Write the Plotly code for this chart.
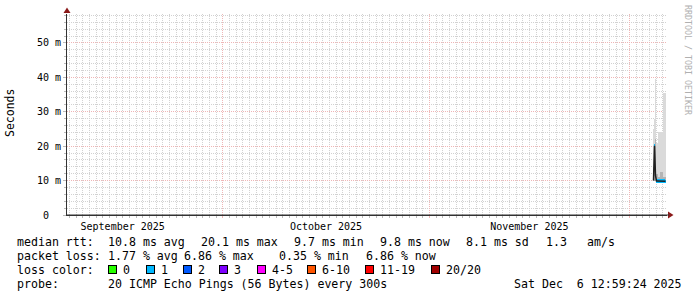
import pandas as pd
import plotly.graph_objects as go

# ---------------- data ----------------
col_times = ["2025-12-04 14:59", "2025-12-04 18:35", "2025-12-04 22:11", "2025-12-05 01:47",
             "2025-12-05 05:23", "2025-12-05 08:59", "2025-12-05 12:35", "2025-12-05 16:11",
             "2025-12-05 19:47", "2025-12-05 23:23", "2025-12-06 02:59", "2025-12-06 06:35",
             "2025-12-06 10:11"]
smoke_low = [9.8, 9.8, 9.8, 9.7, 9.7, 9.7, 9.7, 9.7, 9.7, 9.7, 9.7, 9.7, 9.7]
smoke_mid = [14.0, 18.0, 22.0, 12.0, 12.0, 11.0, 11.0, 12.5, 12.5, 12.5, 11.0, 11.0, 11.0]
smoke_high = [25.0, 28.0, 39.5, 21.0, 21.0, 24.0, 24.0, 24.0, 24.0, 24.0, 35.5, 35.5, 35.5]
median_ms = [10.0, 20.1, 11.5, 9.9, 9.9, 9.9, 9.9, 9.9, 9.9, 9.9, 9.9, 9.9, 9.8]
loss_pings = [None, 1, 1, 1, 1, 1, 1, 1, 1, 1, 1, 1, 1]

x_start = "2025-09-07 15:35:24"
x_end = "2025-12-06 15:35:24"
y_max = 58.4
y_tickvals = [0, 10, 20, 30, 40, 50]
y_ticktext = ["0\u00a0\u00a0", "10 m", "20 m", "30 m", "40 m", "50 m"]

loss_labels = ["0", "1", "2", "3", "4-5", "6-10", "11-19", "20/20"]
loss_colors = ["#26ff00", "#00b8ff", "#0059ff", "#7e00ff", "#ff00ff", "#ff5500", "#ff0000", "#a10000"]
loss_label_x = [108, 146, 183, 219, 257, 307, 365, 431]

legend_lines = [
    [("median rtt:", 16), ("10.8 ms avg", 107), ("20.1 ms max", 200), ("9.7 ms min", 293),
     ("9.8 ms now", 379), ("8.1 ms sd", 465), ("1.3", 545), ("am/s", 586)],
    [("packet loss:", 16), ("1.77 % avg", 107), ("6.86 % max", 183), ("0.35 % min", 278),
     ("6.86 % now", 365)],
    [("loss color:", 16)],
    [("probe:", 16), ("20 ICMP Echo Pings (56 Bytes) every 300s", 107),
     ("Sat Dec  6 12:59:24 2025", 513)],
]
legend_line_y = [241.5, 255.5, 269.5, 283.5]


def loss_color(n):
    if n is None:
        return None
    bounds = [0, 1, 2, 3, 5, 10, 19, 20]
    for b, c in zip(bounds, loss_colors):
        if n <= b:
            return c
    return loss_colors[-1]


# ---------------- axis grid positions ----------------
days = pd.date_range("2025-09-08", "2025-12-06", freq="D")
x_minor_vals = [d.strftime("%Y-%m-%d") for d in days if d.day != 1]
y_minor_vals = [v for v in range(2, 59, 2) if v % 10 != 0]

# ---------------- layout constants ----------------
W, H = 697, 297
L, R, T, B = 67, 30, 14, 82
PW, PH = W - L - R, H - T - B
FONT = "DejaVu Sans Mono"
col_w = 3.6 * 3600 * 1000
GRID_MAJOR = "#efb6b6"
GRID_MINOR = "#d2d2d2"


def px_x(p):
    return (p - L) / PW


def px_y(p):
    return (T + PH - p) / PH


fig = go.Figure()

fig.add_trace(go.Bar(x=col_times, base=smoke_low,
                     y=[h - l for h, l in zip(smoke_high, smoke_low)],
                     width=col_w, marker=dict(color="#dadada", line=dict(width=0)),
                     hoverinfo="skip"))
fig.add_trace(go.Bar(x=col_times, base=smoke_low,
                     y=[m - l for m, l in zip(smoke_mid, smoke_low)],
                     width=col_w, marker=dict(color="#b4b4b4", line=dict(width=0)),
                     hoverinfo="skip"))
fig.add_trace(go.Scatter(x=col_times, y=median_ms, mode="lines",
                         line=dict(color="#202020", width=1.5), hoverinfo="skip"))

mx, mb, mc = [], [], []
for t, m, n in zip(col_times, median_ms, loss_pings):
    c = loss_color(n)
    if c is not None:
        mx.append(t)
        mb.append(m - 0.5)
        mc.append(c)
fig.add_trace(go.Bar(x=mx, base=mb, y=[1.0] * len(mx), width=col_w,
                     marker=dict(color=mc, line=dict(width=0)), hoverinfo="skip"))

annotations = []
for line, yy in zip(legend_lines, legend_line_y):
    for text, xx in line:
        annotations.append(dict(text=text.replace(" ", "\u00a0"), x=px_x(xx), y=px_y(yy),
                                xref="paper", yref="paper", xanchor="left", yanchor="middle",
                                showarrow=False, borderpad=0,
                                font=dict(family=FONT, size=11.6, color="#000000")))
for lab, col, xx in zip(loss_labels, loss_colors, loss_label_x):
    annotations.append(dict(text="\u00a0", x=px_x(xx), y=px_y(269.5), xref="paper", yref="paper",
                            xanchor="left", yanchor="middle", showarrow=False,
                            width=7, height=7, bgcolor=col, bordercolor="#000000",
                            borderwidth=1, borderpad=0, font=dict(size=6)))
    annotations.append(dict(text=lab, x=px_x(xx + 14), y=px_y(269.5), xref="paper", yref="paper",
                            xanchor="left", yanchor="middle", showarrow=False, borderpad=0,
                            font=dict(family=FONT, size=11.6, color="#000000")))

annotations.append(dict(text="Seconds", x=px_x(10), y=px_y(113), xref="paper", yref="paper",
                        xanchor="center", yanchor="middle", textangle=-90, showarrow=False,
                        font=dict(family=FONT, size=11.5, color="#000000")))
annotations.append(dict(text="RRDTOOL / TOBI OETIKER", x=px_x(688), y=px_y(60), xref="paper",
                        yref="paper", xanchor="center", yanchor="middle", textangle=90,
                        showarrow=False, font=dict(family=FONT, size=8.3, color="#b0b0b0")))

shapes = [
    dict(type="path", xref="paper", yref="paper", xsizemode="pixel", ysizemode="pixel",
         xanchor=0, yanchor=1, path="M -3.5,1 L 3.5,1 L 0,6.5 Z",
         fillcolor="#8b1a1a", line=dict(width=0)),
    dict(type="path", xref="paper", yref="paper", xsizemode="pixel", ysizemode="pixel",
         xanchor=1, yanchor=0, path="M 1,-3.5 L 1,3.5 L 6.5,0 Z",
         fillcolor="#8b1a1a", line=dict(width=0)),
    dict(type="line", xref="paper", yref="paper", x0=0, x1=px_x(669), y0=0, y1=0,
         line=dict(color="#333333", width=1)),
]

fig.update_layout(
    width=W, height=H, margin=dict(l=L, r=R, t=T, b=B),
    paper_bgcolor="#ffffff", plot_bgcolor="#ffffff",
    showlegend=False, barmode="overlay", bargap=0,
    annotations=annotations, shapes=shapes,
    font=dict(family=FONT, size=10, color="#000000"),
    xaxis=dict(type="date", range=[x_start, x_end], tick0="2025-09-01", dtick="M1",
               ticklabelmode="period", tickformat="%B %Y",
               showgrid=True, gridcolor=GRID_MAJOR, griddash="1px,1px", gridwidth=1,
               ticks="outside", ticklen=2, tickcolor=GRID_MAJOR,
               showline=True, linecolor="#333333", linewidth=1, zeroline=False,
               tickfont=dict(family=FONT, size=10, color="#000000"),
               minor=dict(tickmode="array", tickvals=x_minor_vals, showgrid=True,
                          gridcolor=GRID_MINOR, griddash="1px,1px",
                          ticks="outside", ticklen=2, tickcolor="#bbbbbb"),
               fixedrange=True),
    yaxis=dict(range=[0, y_max], tickvals=y_tickvals, ticktext=y_ticktext,
               showgrid=True, gridcolor=GRID_MAJOR, griddash="1px,1px", gridwidth=1,
               ticks="outside", ticklen=3, tickcolor="#bbbbbb",
               showline=True, linecolor="#333333", linewidth=1, zeroline=False,
               tickfont=dict(family=FONT, size=10, color="#000000"),
               minor=dict(tickmode="array", tickvals=y_minor_vals, showgrid=True,
                          gridcolor=GRID_MINOR, griddash="1px,1px",
                          ticks="outside", ticklen=2, tickcolor="#bbbbbb"),
               fixedrange=True),
)

fig.write_html("out.html")
